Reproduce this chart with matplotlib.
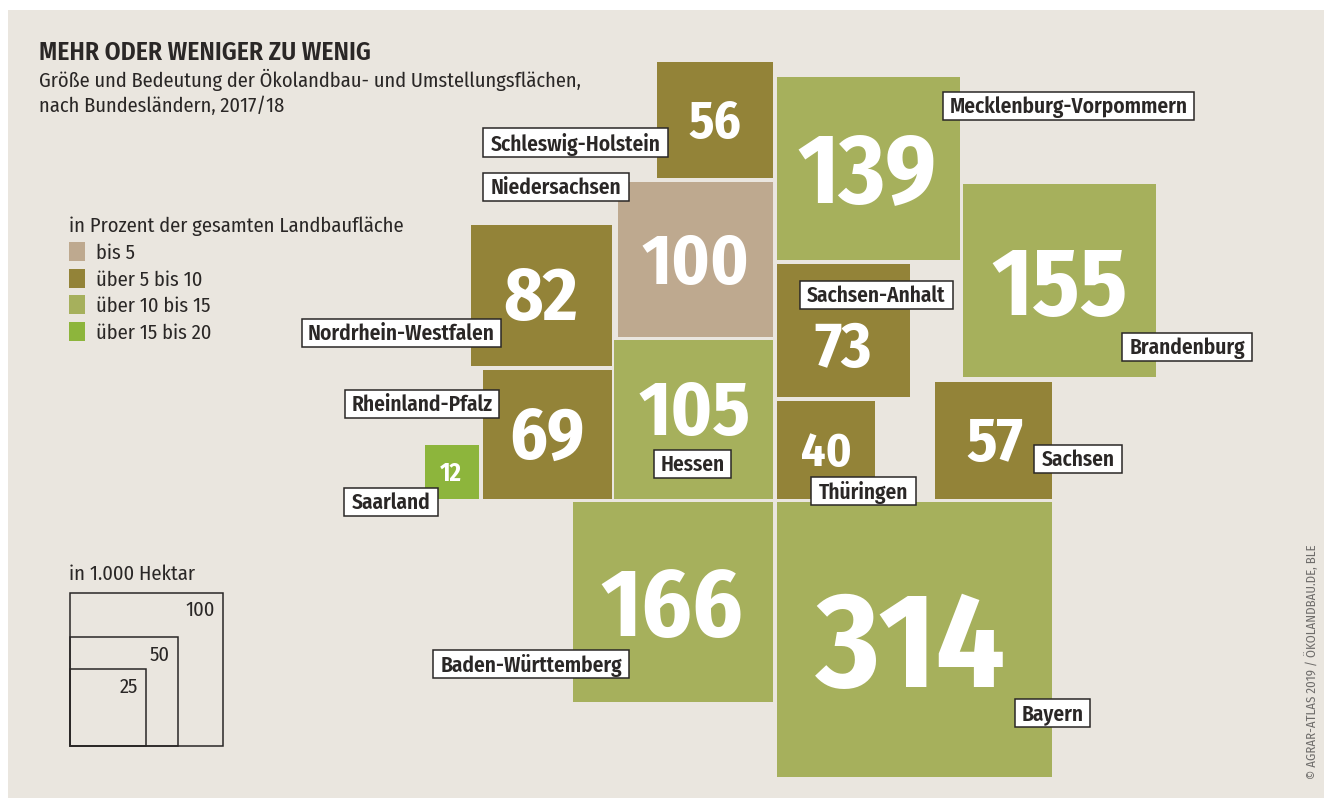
import matplotlib
matplotlib.use("Agg")
import matplotlib.pyplot as plt
from matplotlib.patches import Rectangle
import numpy as np

# ---- data ----
states = ["Schleswig-Holstein", "Mecklenburg-Vorpommern", "Niedersachsen", "Nordrhein-Westfalen",
          "Sachsen-Anhalt", "Brandenburg", "Rheinland-Pfalz", "Hessen", "Thüringen", "Sachsen",
          "Saarland", "Baden-Württemberg", "Bayern"]
hectares = [56, 139, 100, 82, 73, 155, 69, 105, 40, 57, 12, 166, 314]
share_class = [1, 2, 0, 1, 1, 2, 1, 2, 1, 1, 3, 2, 2]
class_labels = ["bis 5", "über 5 bis 10", "über 10 bis 15", "über 15 bis 20"]
scale_values = [100, 50, 25]

# ---- layout (pixel positions, separate from the data) ----
W, H = 1324, 800
K = 15.52  # px per sqrt(1000 ha)
anchors_right_x = [773, None, 773, 612, None, None, 612, 773, None, None, 479, 773, None]
anchors_left_x = [None, 777, None, None, 777, 963, None, None, 777, 935, None, None, 777]
anchors_top_y = [62, 77, 182, 225, 264, 184, None, None, None, None, None, 502, 502]
anchors_bottom_y = [None, None, None, None, None, None, 499, 499, 499, 499, 499, None, None]
num_xy = [(715, 118), (867, 165), (695, 257), (541, 292), (843, 343), (1060, 278), (547, 431),
          (695, 406), (826, 448), (995, 438), (451, 471), (672, 599), (911, 636)]
num_cap_px = [36, 68, 49, 52, 44, 67, 50, 53, 33, 43, 17, 67, 93]
label_boxes = [(483, 128, 668, 157), (943, 92, 1194, 120), (483, 173, 629, 201), (302, 319, 501, 347),
               (800, 281, 953, 309), (1122, 333, 1252, 361), (345, 390, 499, 418), (654, 450, 731, 478),
               (811, 477, 916, 505), (1034, 445, 1122, 473), (344, 488, 438, 516), (433, 650, 629, 678),
               (1015, 699, 1090, 727)]
class_colors = ["#BEA98F", "#938338", "#A6B05C", "#8DB53C"]
BG = "#EAE6DF"
INK = "#2A2726"
NARROW = ["Fira Sans Condensed", "Roboto Condensed", "DejaVu Sans"]

px = 0.72  # px -> pt at dpi 100
fig = plt.figure(figsize=(W / 100, H / 100), dpi=100, facecolor="white")
ax = fig.add_axes([0, 0, 1, 1])
ax.set_xlim(0, W)
ax.set_ylim(H, 0)
ax.axis("off")

ax.add_patch(Rectangle((8, 10), W - 8, 788, fc=BG, ec="none", zorder=0))

# squares
for i, v in enumerate(hectares):
    s = K * np.sqrt(v)
    x = anchors_left_x[i] if anchors_left_x[i] is not None else anchors_right_x[i] - s
    y = anchors_top_y[i] if anchors_top_y[i] is not None else anchors_bottom_y[i] - s
    ax.add_patch(Rectangle((x, y), s, s, fc=class_colors[share_class[i]], ec="none", zorder=1))
    ax.text(*num_xy[i], str(v), color="white", family=NARROW, weight="bold",
            fontsize=num_cap_px[i] / 0.69 * px, ha="center", va="center_baseline", zorder=2)

# state labels
for name, (x0, y0, x1, y1) in zip(states, label_boxes):
    ax.add_patch(Rectangle((x0, y0), x1 - x0, y1 - y0, fc="white", ec=INK, lw=1.1, zorder=3))
    ax.text((x0 + x1) / 2, (y0 + y1) / 2 - 1, name, color=INK, family=NARROW, weight="semibold",
            fontsize=15.4, ha="center", va="center_baseline", zorder=4)

# title
ax.text(39, 50, "MEHR ODER WENIGER ZU WENIG", color=INK, family=NARROW, weight="semibold",
        fontsize=18.4, va="center_baseline")
ax.text(39, 78, "Größe und Bedeutung der Ökolandbau- und Umstellungsflächen,", color=INK,
        family=NARROW, fontsize=14.72, va="center_baseline")
ax.text(39, 104, "nach Bundesländern, 2017/18", color=INK, family=NARROW, fontsize=14.72,
        va="center_baseline")

# colour legend
ax.text(69, 224, "in Prozent der gesamten Landbaufläche", color=INK, family=NARROW,
        fontsize=14.75, va="center_baseline")
for j, lab in enumerate(class_labels):
    yc = 251.5 + j * 26.6
    ax.add_patch(Rectangle((69, yc - 9.5), 16, 19, fc=class_colors[j], ec="none"))
    ax.text(96, yc, lab, color=INK, family=NARROW, fontsize=14.75, va="center_baseline")

# size legend
ax.text(69, 572, "in 1.000 Hektar", color=INK, family=NARROW, fontsize=14.75,
        va="center_baseline")
for v in scale_values:
    s = 15.35 * np.sqrt(v)
    ax.add_patch(Rectangle((69.5, 746 - s), s, s, fc="none", ec=INK, lw=1.1))
    ax.text(69.5 + s - 8, 746 - s + 16, str(v), color=INK, family=NARROW, fontsize=14.75,
            ha="right", va="center_baseline")

# source
ax.text(1312, 662, "© AGRAR-ATLAS 2019 / ÖKOLANDBAU.DE, BLE", color="#6E6C6A", family=NARROW,
        fontsize=9.2, rotation=90, ha="center", va="center")

fig.savefig("out.png", dpi=100, facecolor="white")
